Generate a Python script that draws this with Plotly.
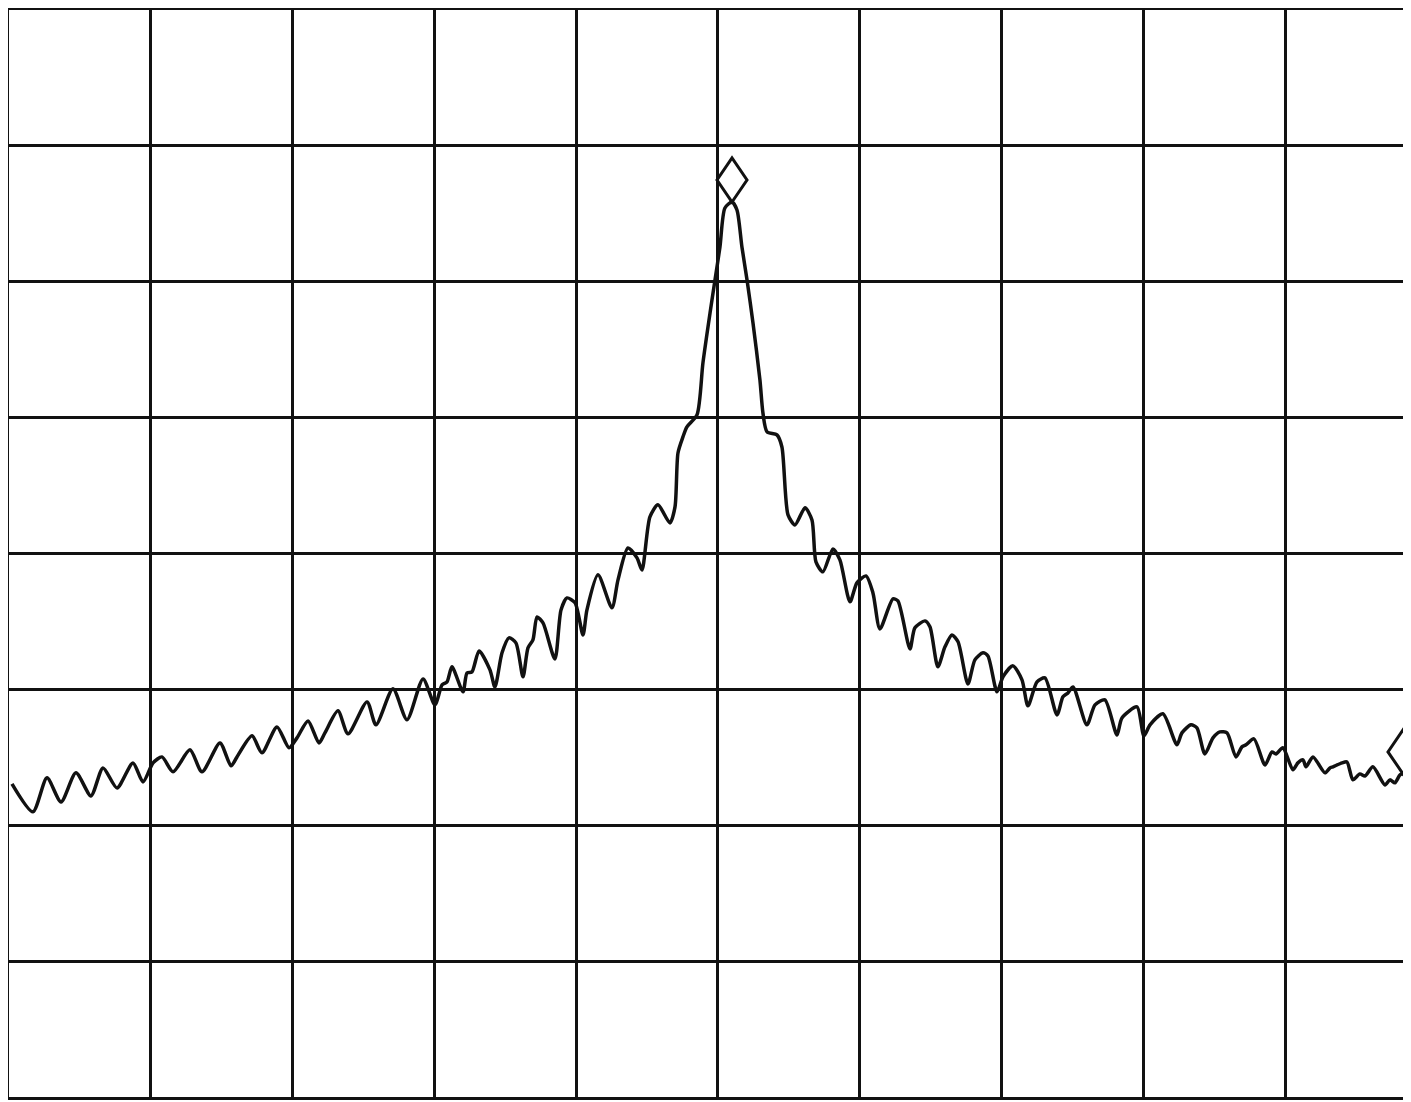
import plotly.graph_objects as go

# Frequency offset from centre (divisions) and level (dB, 10 dB/div, ref 0 dB at top)
freq = [-4.979, -4.831, -4.732, -4.633, -4.528, -4.422, -4.337, -4.238, -4.126, -4.055,
        -3.984, -3.921, -3.843, -3.724, -3.639, -3.512, -3.434, -3.392, -3.286, -3.216,
        -3.110, -3.025, -2.969, -2.891, -2.814, -2.772, -2.680, -2.609, -2.475, -2.412,
        -2.292, -2.193, -2.080, -1.996, -1.946, -1.911, -1.876, -1.798, -1.770, -1.735,
        -1.685, -1.608, -1.573, -1.523, -1.474, -1.425, -1.375, -1.340, -1.305, -1.276,
        -1.234, -1.150, -1.107, -1.065, -1.008, -0.952, -0.924, -0.846, -0.748, -0.705,
        -0.635, -0.571, -0.536, -0.480, -0.423, -0.339, -0.303, -0.282, -0.247, -0.219,
        -0.148, -0.106, -0.056, -0.021, 0.014, 0.049, 0.099, 0.134, 0.169, 0.205,
        0.247, 0.296, 0.317, 0.346, 0.416, 0.451, 0.494, 0.543, 0.614, 0.663,
        0.691, 0.740, 0.811, 0.860, 0.931, 0.980, 1.044, 1.093, 1.142, 1.234,
        1.269, 1.354, 1.389, 1.460, 1.495, 1.551, 1.601, 1.650, 1.693, 1.763,
        1.812, 1.869, 1.904, 1.968, 2.010, 2.080, 2.144, 2.186, 2.250, 2.306,
        2.391, 2.433, 2.468, 2.504, 2.602, 2.659, 2.729, 2.814, 2.849, 2.955,
        3.004, 3.047, 3.138, 3.237, 3.272, 3.336, 3.378, 3.434, 3.491, 3.540,
        3.590, 3.653, 3.695, 3.724, 3.780, 3.858, 3.907, 3.935, 3.984, 4.055,
        4.090, 4.126, 4.147, 4.196, 4.281, 4.316, 4.337, 4.401, 4.436, 4.478,
        4.527, 4.563, 4.619, 4.704, 4.739, 4.774, 4.810, 4.831, 4.887]

level_db = [-56.95, -59.01, -56.51, -58.28, -56.14, -57.84, -55.78, -57.25, -55.41, -56.81,
            -55.41, -54.97, -56.07, -54.45, -56.07, -53.94, -55.63, -54.97, -53.42, -54.67,
            -52.76, -54.30, -53.57, -52.32, -53.94, -53.20, -51.58, -53.27, -50.92, -52.61,
            -49.96, -52.24, -49.23, -51.14, -49.67, -49.45, -48.34, -50.18, -48.79, -48.71,
            -47.17, -48.57, -49.82, -47.31, -46.21, -46.58, -49.08, -46.95, -46.36, -44.67,
            -45.11, -47.76, -44.15, -43.27, -43.63, -45.99, -44.15, -41.57, -44.00, -41.94,
            -39.59, -40.32, -41.21, -37.31, -36.42, -37.75, -36.57, -32.60, -31.42, -30.68,
            -29.80, -25.97, -22.30, -19.87, -17.44, -14.57, -14.13, -14.72, -17.44, -19.87,
            -23.03, -27.23, -29.65, -31.05, -31.27, -32.16, -37.16, -37.90, -36.64, -37.53,
            -40.62, -41.35, -39.66, -40.47, -43.56, -42.16, -41.65, -42.90, -45.55, -43.34,
            -43.49, -47.02, -45.47, -44.96, -45.40, -48.34, -46.87, -45.99, -46.50, -49.60,
            -47.83, -47.31, -47.54, -50.18, -49.08, -48.27, -49.30, -51.21, -49.45, -49.15,
            -51.88, -50.55, -50.26, -49.82, -52.61, -51.14, -50.77, -53.35, -52.10, -51.29,
            -53.42, -52.61, -51.80, -54.08, -53.20, -52.61, -52.83, -54.75, -53.57, -53.13,
            -53.20, -54.97, -54.23, -54.08, -53.64, -55.56, -54.60, -54.75, -54.30, -55.92,
            -55.41, -55.19, -55.70, -54.97, -56.14, -55.78, -55.70, -55.41, -55.34, -56.66,
            -56.22, -56.37, -55.70, -57.03, -56.66, -56.88, -56.29, -56.22, -57.03]

# Marker positions (frequency, level)
marker_freq = [0.099, 4.831]
marker_db = [-14.13, -56.22]

x_ticks = [-5, -4, -3, -2, -1, 0, 1, 2, 3, 4]
y_ticks = [-80, -70, -60, -50, -40, -30, -20, -10, 0]

fig = go.Figure()
fig.add_trace(go.Scatter(
    x=freq, y=level_db, mode="lines",
    line=dict(color="#111111", width=3.5, shape="spline", smoothing=0.7),
    hoverinfo="skip", showlegend=False,
))

# Diamond markers, drawn as pixel-sized shapes anchored on the trace points
diamond_path = "M0,0 L15,22 L0,44 L-15,22 Z"
for mx, my in zip(marker_freq, marker_db):
    fig.add_shape(
        type="path", xref="x", yref="y",
        xsizemode="pixel", ysizemode="pixel",
        xanchor=mx, yanchor=my,
        path=diamond_path,
        line=dict(color="#111111", width=3),
        fillcolor="rgba(0,0,0,0)",
    )

fig.update_layout(
    width=1411, height=1102,
    margin=dict(l=1, r=0, t=2, b=13),
    paper_bgcolor="white", plot_bgcolor="white",
    showlegend=False,
)
fig.update_xaxes(
    range=[-5, 4.944], tickvals=x_ticks, showticklabels=False, ticks="",
    showgrid=True, gridcolor="#111111", gridwidth=2.8, zeroline=False,
    showline=True, linecolor="#111111", linewidth=3, mirror=True,
)
fig.update_yaxes(
    range=[-80, 0], tickvals=y_ticks, showticklabels=False, ticks="",
    showgrid=True, gridcolor="#111111", gridwidth=2.5, zeroline=False,
    showline=True, linecolor="#111111", linewidth=3, mirror=False,
)

fig.write_html("out.html")
